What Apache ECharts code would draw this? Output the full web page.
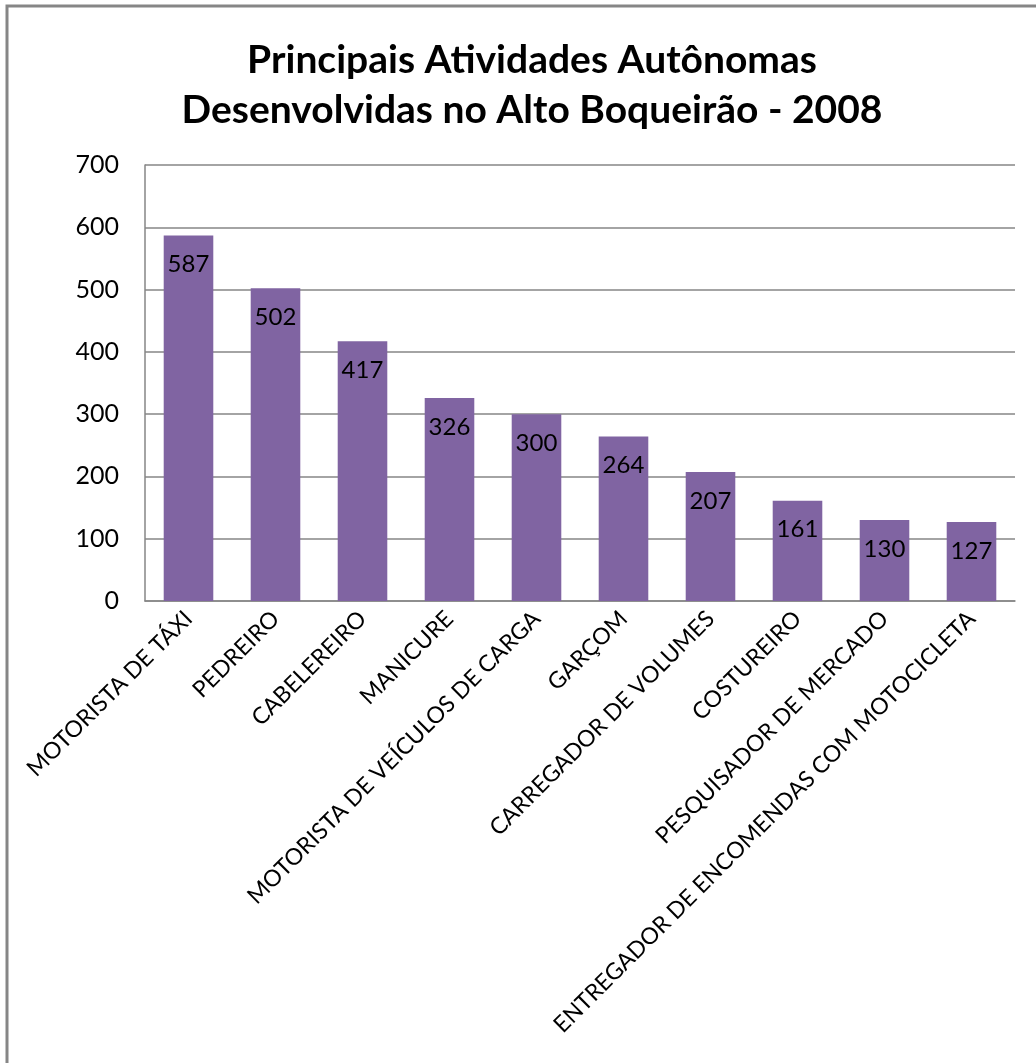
<!DOCTYPE html>
<html><head><meta charset="utf-8">
<script src="https://cdn.jsdelivr.net/npm/echarts@6/dist/echarts.min.js"></script>
<style>html,body{margin:0;padding:0;background:#fff}#c{width:1036px;height:1063px}</style>
</head><body><div id="c"></div>
<script>
const titleLines = ['Principais Atividades Autônomas', 'Desenvolvidas no Alto Boqueirão - 2008'];
const categories = ['MOTORISTA DE TÁXI','PEDREIRO','CABELEREIRO','MANICURE','MOTORISTA DE VEÍCULOS DE CARGA','GARÇOM','CARREGADOR DE VOLUMES','COSTUREIRO','PESQUISADOR DE MERCADO','ENTREGADOR DE ENCOMENDAS COM MOTOCICLETA'];
const values = [587,502,417,326,300,264,207,161,130,127];
const yTicks = {min:0, max:700, interval:100};
const font = 'Lato, "Open Sans", sans-serif';
const chart = echarts.init(document.getElementById('c'), null, {renderer:'canvas'});
chart.setOption({
  backgroundColor:'#fff',
  animation:false,
  title:{text:titleLines.join('\n'), left:527, textAlign:'center', top:30,
    textStyle:{fontFamily:font, fontWeight:'bold', fontSize:39, lineHeight:50, color:'#000'}},
  grid:{left:145, right:21, top:165, bottom:462},
  graphic:[{type:'polyline', shape:{points:[[7,1070],[7,6],[1045,6]]}, style:{stroke:'#868686', lineWidth:3, fill:null}}],
  xAxis:{type:'category', data:categories,
    axisLine:{lineStyle:{color:'#868686', width:1.5}}, axisTick:{show:false},
    axisLabel:{interval:0, rotate:45, fontFamily:font, fontSize:23, color:'#000', margin:14}},
  yAxis:{type:'value', min:yTicks.min, max:yTicks.max, interval:yTicks.interval,
    axisLine:{show:true, lineStyle:{color:'#868686', width:1.5}}, axisTick:{show:false},
    splitLine:{lineStyle:{color:'#868686', width:1.5}},
    axisLabel:{fontFamily:font, fontSize:25, color:'#000', margin:26}},
  series:[{type:'bar', data:values, barWidth:'57%', itemStyle:{color:'#8064A2'},
    label:{show:true, position:'insideTop', distance:17, fontFamily:font, fontSize:24, color:'#000'}}]
});
</script></body></html>
